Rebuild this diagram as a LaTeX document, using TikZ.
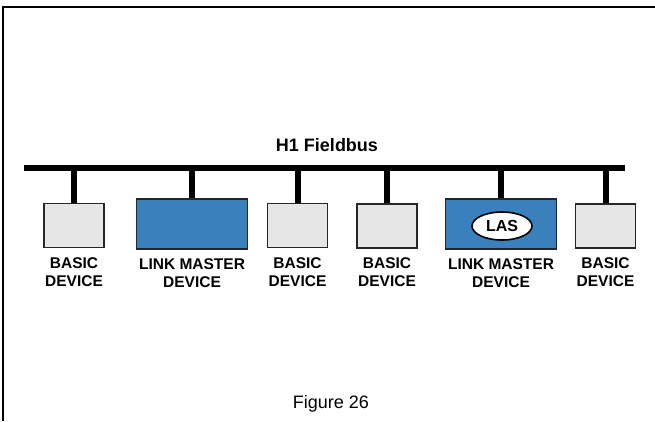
\documentclass[tikz,border=0pt]{standalone}
\usepackage{fontspec}
\setmainfont{Liberation Sans}
\usetikzlibrary{positioning,shapes.geometric}
\definecolor{devgray}{RGB}{230,230,230}
\definecolor{lmblue}{RGB}{58,128,189}
\tikzset{
  basic/.style={draw=black!85, line width=1.6pt, fill=devgray, minimum width=60pt, minimum height=44pt, inner sep=0pt},
  linkmaster/.style={draw=black!85, line width=1.8pt, fill=lmblue, minimum width=111pt, minimum height=50pt, inner sep=0pt},
  devlabel/.style={font=\fontsize{15.5}{18}\selectfont\bfseries, align=center, inner sep=0pt},
  stub/.style={line width=6pt}
}
\begin{document}
\begin{tikzpicture}[x=1pt, y=-1pt]
  \useasboundingbox (0,0) rectangle (655,421);
  \draw[line width=2.5pt] (3,421) |- (655,7); % frame

  \coordinate (busL) at (24,168);
  \coordinate (busR) at (625,168);
  \draw[line width=6pt] (busL) -- (busR); % bus
  \node[font=\fontsize{18}{20}\selectfont\bfseries] (title) at (327,145) {H1 Fieldbus};

  \node[basic] (dev1) at (74,225.5) {};
  \node[linkmaster] (dev2) at (192,224) {};
  \node[basic] (dev3) at (297.5,225.5) {};
  \node[basic] (dev4) at (387,226) {};
  \node[linkmaster] (dev5) at (501,224) {};
  \node[basic] (dev6) at (605.5,226) {};
  \node[ellipse, draw=black, line width=1.6pt, fill=white, minimum width=60pt, minimum height=28pt, inner sep=0pt,
        font=\fontsize{16}{18}\selectfont\bfseries] (las) at (502,226) {LAS};

  \foreach \d in {dev1,dev2,dev3,dev4,dev5,dev6}
    \draw[stub] (\d.north) -- (\d.north |- busL); % drop to bus

  \node[devlabel, below=9pt of dev1] (lab1) {BASIC\\DEVICE};
  \node[devlabel, below=9pt of dev2] (lab2) {LINK MASTER\\DEVICE};
  \node[devlabel, below=9pt of dev3] (lab3) {BASIC\\DEVICE};
  \node[devlabel, below=9pt of dev4] (lab4) {BASIC\\DEVICE};
  \node[devlabel, below=9pt of dev5] (lab5) {LINK MASTER\\DEVICE};
  \node[devlabel, below=9pt of dev6] (lab6) {BASIC\\DEVICE};

  \node[font=\fontsize{18}{20}\selectfont] (fig) at (331,404) {Figure 26};
\end{tikzpicture}
\end{document}
